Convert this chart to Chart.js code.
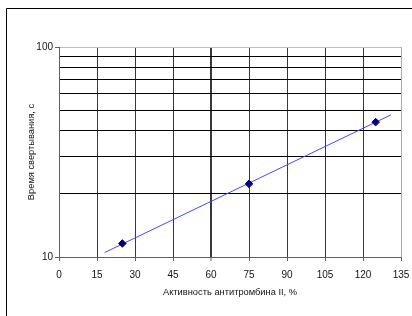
<!DOCTYPE html>
<html><head><meta charset="utf-8">
<script src="https://cdn.jsdelivr.net/npm/chart.js@4/dist/chart.umd.min.js"></script>
<style>html,body{margin:0;padding:0;background:#fff}#wrap{width:412px;height:316px;position:relative}</style>
</head><body><div id="wrap"><canvas id="c" width="412" height="316"></canvas></div>
<script>
const pointsX = [25, 75, 125];
const pointsY = [11.6, 22.3, 43.9];
const trendX = [18, 131];
const trendY = [10.5, 47.5];
const xTicks = [0, 15, 30, 45, 60, 75, 90, 105, 120, 135];
const yGrid = [10, 20, 30, 40, 50, 60, 70, 80, 90, 100];
const yLabels = [10, 100];
const xTitle = 'Активность антитромбина II, %';
const yTitle = 'Время свертывания, с';

const FONT = "'Liberation Sans', Arial, sans-serif";
const framePlugin = {
  id: 'frame',
  beforeDraw(chart) {
    const ctx = chart.ctx;
    ctx.save();
    ctx.fillStyle = '#fff';
    ctx.fillRect(0, 0, chart.width, chart.height);
    ctx.strokeStyle = '#000';
    ctx.lineWidth = 1;
    ctx.beginPath();
    ctx.moveTo(6.5, 316);
    ctx.lineTo(6.5, 8.5);
    ctx.lineTo(412, 8.5);
    ctx.stroke();
    ctx.restore();
  }
};

new Chart(document.getElementById('c'), {
  type: 'scatter',
  data: {
    datasets: [
      {
        type: 'line',
        data: trendX.map((x, i) => ({x, y: trendY[i]})),
        borderColor: '#4848ff',
        borderWidth: 1,
        pointRadius: 0,
        fill: false,
        order: 2
      },
      {
        data: pointsX.map((x, i) => ({x, y: pointsY[i]})),
        backgroundColor: '#000080',
        borderColor: '#000080',
        pointStyle: 'rectRot',
        pointRadius: 3.8,
        order: 1
      }
    ]
  },
  options: {
    responsive: false,
    animation: false,
    devicePixelRatio: 1,
    layout: { padding: { left: 0, top: 47, right: 11, bottom: 0 } },
    plugins: { legend: { display: false }, tooltip: { enabled: false } },
    scales: {
      x: {
        type: 'linear', min: 0, max: 135,
        afterBuildTicks(s) { s.ticks = xTicks.map(v => ({value: v})); },
        afterFit(s) { s.height = 59; s.paddingLeft = 0; s.paddingRight = 0; },
        ticks: { font: { family: FONT, size: 10 }, color: '#111', padding: 8, maxRotation: 0, autoSkip: false },
        grid: {
          color: c => c.tick && c.tick.value === 135 ? '#a8a8a8' : '#383838',
          lineWidth: c => c.tick && c.tick.value === 60 ? 2 : 1,
          tickLength: 4,
          tickColor: '#606060',
          tickWidth: 1
        },
        border: { color: '#606060', width: 1 },
        title: { display: true, text: xTitle, font: { family: FONT, size: 9.3 }, color: '#111', padding: { top: 0, bottom: 18 } }
      },
      y: {
        type: 'logarithmic', min: 10, max: 100,
        afterBuildTicks(s) { s.ticks = yGrid.map(v => ({value: v})); },
        afterFit(s) { s.width = 59; s.paddingTop = 0; s.paddingBottom = 0; },
        ticks: {
          font: { family: FONT, size: 10 }, color: '#111', padding: 2, autoSkip: false,
          callback: v => yLabels.includes(v) ? String(v) : ''
        },
        grid: {
          color: c => c.tick && c.tick.value === 100 ? '#c0c0c0' : '#000',
          lineWidth: 1,
          tickLength: 4,
          tickColor: c => c.tick && yLabels.includes(c.tick.value) ? '#606060' : 'rgba(0,0,0,0)',
          tickWidth: 1
        },
        border: { color: '#606060', width: 1 },
        title: { display: true, text: yTitle, font: { family: FONT, size: 9.3 }, color: '#111', padding: { top: 26, bottom: 0 } }
      }
    }
  },
  plugins: [framePlugin]
});
</script></body></html>
